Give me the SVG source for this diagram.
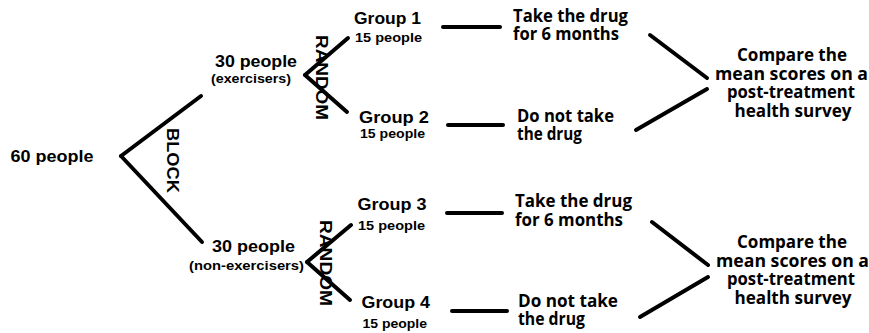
<svg xmlns="http://www.w3.org/2000/svg" width="869" height="333" viewBox="0 0 869 333">
  <style>
    .bg { fill: #ffffff; }
    .edge { stroke: #000; stroke-width: 4; stroke-linecap: round; fill: none; }
    .t { font-family: "Liberation Sans", Arial, sans-serif; font-weight: bold; fill: #000; }
    .big { font-size: 16px; }
    .small { font-size: 13.5px; }
    .note { font-size: 13px; }
    .r { font-family: "Open Sans", "Liberation Sans", sans-serif; font-weight: 700; font-size: 17px; fill: #000; }
    .side { font-family: "Liberation Sans", Arial, sans-serif; font-weight: bold; font-size: 16px; fill: #000; }
  </style>
  <rect class="bg" x="0" y="0" width="869" height="333"/>

  <!-- connectors -->
  <g id="connectors">
    <!-- block split -->
    <line class="edge" x1="121" y1="156" x2="201" y2="96"/>
    <line class="edge" x1="121" y1="156" x2="202" y2="242"/>
    <!-- random split, exercisers -->
    <line class="edge" x1="305" y1="75" x2="348" y2="38"/>
    <line class="edge" x1="305" y1="75" x2="347" y2="112"/>
    <!-- random split, non-exercisers -->
    <line class="edge" x1="307" y1="262" x2="351" y2="225"/>
    <line class="edge" x1="307" y1="262" x2="350" y2="300"/>
    <!-- group to treatment -->
    <line class="edge" x1="443" y1="27" x2="500" y2="27"/>
    <line class="edge" x1="448" y1="125" x2="503" y2="125"/>
    <line class="edge" x1="447" y1="213" x2="502" y2="213"/>
    <line class="edge" x1="452" y1="311" x2="507" y2="311"/>
    <!-- treatment to comparison -->
    <line class="edge" x1="650" y1="35" x2="707" y2="78"/>
    <line class="edge" x1="636" y1="130" x2="707" y2="89"/>
    <line class="edge" x1="652" y1="222" x2="708" y2="265"/>
    <line class="edge" x1="640" y1="317" x2="708" y2="277"/>
  </g>

  <!-- edge labels -->
  <g id="label-block">
    <text class="side" x="167" y="128" transform="rotate(90 167 128)" textLength="65" lengthAdjust="spacingAndGlyphs">BLOCK</text>
  </g>
  <g id="label-random-1">
    <text class="side" x="316" y="35" transform="rotate(90 316 35)" textLength="85" lengthAdjust="spacingAndGlyphs">RANDOM</text>
  </g>
  <g id="label-random-2">
    <text class="side" x="320" y="220" transform="rotate(90 320 220)" textLength="86" lengthAdjust="spacingAndGlyphs">RANDOM</text>
  </g>

  <!-- nodes -->
  <g id="all-people">
    <text class="t big" x="10.5" y="162" textLength="83" lengthAdjust="spacingAndGlyphs">60 people</text>
  </g>

  <g id="exercisers">
    <text class="t big" x="215" y="67" textLength="82" lengthAdjust="spacingAndGlyphs">30 people</text>
    <text class="t note" x="211" y="83" textLength="80" lengthAdjust="spacingAndGlyphs">(exercisers)</text>
  </g>

  <g id="non-exercisers">
    <text class="t big" x="212" y="252" textLength="83" lengthAdjust="spacingAndGlyphs">30 people</text>
    <text class="t note" x="189" y="270" textLength="115" lengthAdjust="spacingAndGlyphs">(non-exercisers)</text>
  </g>

  <g id="group-1">
    <text class="t big" x="354" y="24" textLength="67" lengthAdjust="spacingAndGlyphs">Group 1</text>
    <text class="t small" x="355" y="42" textLength="67" lengthAdjust="spacingAndGlyphs">15 people</text>
  </g>
  <g id="group-2">
    <text class="t big" x="359" y="123" textLength="70" lengthAdjust="spacingAndGlyphs">Group 2</text>
    <text class="t small" x="360" y="137.5" textLength="65" lengthAdjust="spacingAndGlyphs">15 people</text>
  </g>
  <g id="group-3">
    <text class="t big" x="357.5" y="210" textLength="69" lengthAdjust="spacingAndGlyphs">Group 3</text>
    <text class="t small" x="358" y="229.5" textLength="67" lengthAdjust="spacingAndGlyphs">15 people</text>
  </g>
  <g id="group-4">
    <text class="t big" x="361.5" y="308" textLength="68.5" lengthAdjust="spacingAndGlyphs">Group 4</text>
    <text class="t small" x="362.5" y="327.5" textLength="64.5" lengthAdjust="spacingAndGlyphs">15 people</text>
  </g>

  <g id="treatment-1">
    <text class="r" x="513" y="22" textLength="115" lengthAdjust="spacingAndGlyphs">Take the drug</text>
    <text class="r" x="513" y="40" textLength="106" lengthAdjust="spacingAndGlyphs">for 6 months</text>
  </g>
  <g id="control-1">
    <text class="r" x="517" y="122" textLength="97" lengthAdjust="spacingAndGlyphs">Do not take</text>
    <text class="r" x="517" y="140" textLength="65" lengthAdjust="spacingAndGlyphs">the drug</text>
  </g>
  <g id="treatment-2">
    <text class="r" x="515" y="207" textLength="117" lengthAdjust="spacingAndGlyphs">Take the drug</text>
    <text class="r" x="515" y="226" textLength="108" lengthAdjust="spacingAndGlyphs">for 6 months</text>
  </g>
  <g id="control-2">
    <text class="r" x="518" y="307" textLength="100" lengthAdjust="spacingAndGlyphs">Do not take</text>
    <text class="r" x="518" y="325" textLength="67" lengthAdjust="spacingAndGlyphs">the drug</text>
  </g>

  <g id="compare-1">
    <text class="r" x="792" y="61" text-anchor="middle" textLength="110" lengthAdjust="spacingAndGlyphs">Compare the</text>
    <text class="r" x="791.5" y="80" text-anchor="middle" textLength="153" lengthAdjust="spacingAndGlyphs">mean scores on a</text>
    <text class="r" x="791" y="98" text-anchor="middle" textLength="128" lengthAdjust="spacingAndGlyphs">post-treatment</text>
    <text class="r" x="793" y="117" text-anchor="middle" textLength="117" lengthAdjust="spacingAndGlyphs">health survey</text>
  </g>
  <g id="compare-2">
    <text class="r" x="792" y="248" text-anchor="middle" textLength="110" lengthAdjust="spacingAndGlyphs">Compare the</text>
    <text class="r" x="792.5" y="266.5" text-anchor="middle" textLength="153" lengthAdjust="spacingAndGlyphs">mean scores on a</text>
    <text class="r" x="791" y="285" text-anchor="middle" textLength="128" lengthAdjust="spacingAndGlyphs">post-treatment</text>
    <text class="r" x="793" y="303.5" text-anchor="middle" textLength="117" lengthAdjust="spacingAndGlyphs">health survey</text>
  </g>
</svg>
